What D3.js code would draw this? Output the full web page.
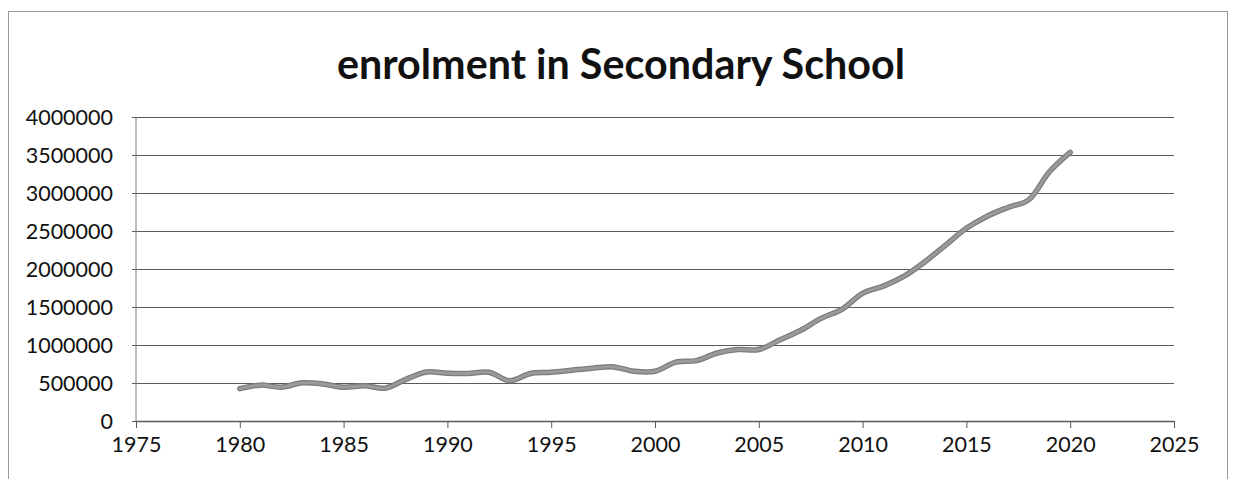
<!DOCTYPE html>
<html>
<head>
<meta charset="utf-8">
<script src="https://cdn.jsdelivr.net/npm/d3@7/dist/d3.min.js"></script>
<style>
  html, body { margin: 0; padding: 0; background: #fff; }
  svg { display: block; }
</style>
</head>
<body>
<svg id="chart" width="1234" height="479"></svg>
<script>
// Secondary school enrolment by year
const years = [
  1980, 1981, 1982, 1983, 1984, 1985, 1986, 1987, 1988, 1989,
  1990, 1991, 1992, 1993, 1994, 1995, 1996, 1997, 1998, 1999,
  2000, 2001, 2002, 2003, 2004, 2005, 2006, 2007, 2008, 2009,
  2010, 2011, 2012, 2013, 2014, 2015, 2016, 2017, 2018, 2019,
  2020
];
const enrolment = [
  425000, 472000, 445000, 502000, 488000, 443000, 464000, 432000, 548000, 645000,
  628000, 625000, 642000, 530000, 625000, 640000, 668000, 695000, 712000, 655000,
  655000, 775000, 795000, 895000, 940000, 940000, 1065000, 1190000, 1350000, 1470000,
  1680000, 1775000, 1905000, 2095000, 2315000, 2535000, 2695000, 2810000, 2910000, 3280000,
  3535000
];
const xTicks = [1975, 1980, 1985, 1990, 1995, 2000, 2005, 2010, 2015, 2020, 2025];
const yTicks = [0, 500000, 1000000, 1500000, 2000000, 2500000, 3000000, 3500000, 4000000];
const title = "enrolment in Secondary School";

const svg = d3.select("#chart");
const font = "Lato, 'Open Sans', 'Liberation Sans', sans-serif";

// chart frame (bottom edge runs past the page)
svg.append("rect")
  .attr("x", 8.5).attr("y", 11.5)
  .attr("width", 1219).attr("height", 500)
  .attr("fill", "none")
  .attr("stroke", "#9a9a9a")
  .attr("stroke-width", 1);

const plot = { left: 136, right: 1174, top: 117, bottom: 421 };

const x = d3.scaleLinear().domain([1975, 2025]).range([plot.left, plot.right]);
const y = d3.scaleLinear().domain([0, 4000000]).range([plot.bottom, plot.top]);

// title
svg.append("text")
  .attr("x", 621).attr("y", 79)
  .attr("text-anchor", "middle")
  .attr("font-family", font)
  .attr("font-weight", "bold")
  .attr("font-size", 42)
  .attr("fill", "#111")
  .attr("textLength", 568)
  .attr("lengthAdjust", "spacingAndGlyphs")
  .text(title);

// horizontal gridlines with short ticks left of the axis
const yAxis = d3.axisLeft(y)
  .tickValues(yTicks)
  .tickSize(-(plot.right - plot.left + 4))
  .tickSizeOuter(0)
  .tickPadding(0)
  .tickFormat(d3.format("d"));

const gy = svg.append("g")
  .attr("transform", `translate(${plot.left - 4},0)`)
  .call(yAxis);
gy.select(".domain").remove();
gy.selectAll(".tick line")
  .attr("stroke", "#5a5a5a")
  .attr("stroke-width", 1);
gy.selectAll(".tick text")
  .attr("x", 113 - (plot.left - 4))
  .attr("dy", "0.35em")
  .attr("font-family", font)
  .attr("font-size", 21.5)
  .attr("fill", "#111");

// vertical axis line
svg.append("line")
  .attr("x1", plot.left).attr("x2", plot.left)
  .attr("y1", plot.top).attr("y2", plot.bottom)
  .attr("stroke", "#7a7a7a").attr("stroke-width", 1);

// horizontal axis with year ticks
const xAxis = d3.axisBottom(x)
  .tickValues(xTicks)
  .tickSize(7)
  .tickSizeOuter(0)
  .tickPadding(9)
  .tickFormat(d3.format("d"));

const gx = svg.append("g")
  .attr("transform", `translate(0,${plot.bottom})`)
  .call(xAxis);
gx.select(".domain")
  .attr("stroke", "#5a5a5a").attr("stroke-width", 1.3);
gx.selectAll(".tick line")
  .attr("stroke", "#5a5a5a");
gx.selectAll(".tick text")
  .attr("font-family", font)
  .attr("font-size", 21.5)
  .attr("fill", "#111");

// smoothed enrolment line
const data = years.map((yr, i) => ({ year: yr, value: enrolment[i] }));
const line = d3.line()
  .x(d => x(d.year))
  .y(d => y(d.value))
  .curve(d3.curveCatmullRom.alpha(0.5));

svg.append("path")
  .datum(data)
  .attr("d", line)
  .attr("fill", "none")
  .attr("stroke", "#7c7c7c")
  .attr("stroke-width", 5.5)
  .attr("stroke-linejoin", "round")
  .attr("stroke-linecap", "round");
svg.append("path")
  .datum(data)
  .attr("d", line)
  .attr("fill", "none")
  .attr("stroke", "#9a9a9a")
  .attr("stroke-width", 3)
  .attr("stroke-linejoin", "round")
  .attr("stroke-linecap", "round");
</script>
</body>
</html>
